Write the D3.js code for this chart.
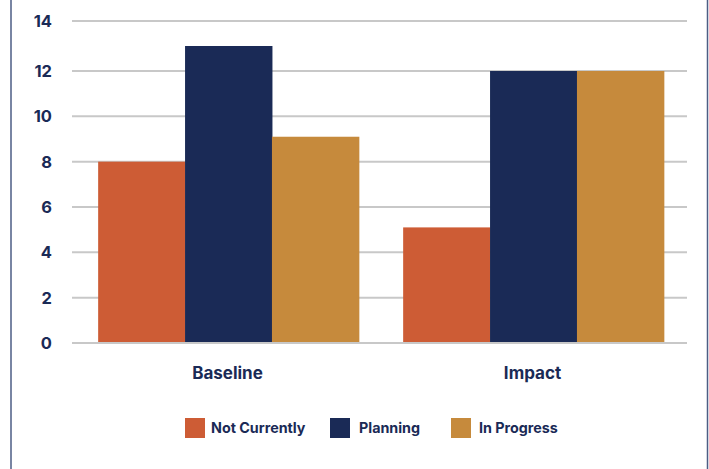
<!DOCTYPE html>
<html><head><meta charset="utf-8">
<script src="https://cdn.jsdelivr.net/npm/d3@7"></script>
<style>body{margin:0;background:#fff}svg{display:block}</style>
</head><body>
<script>
const categories = ["Baseline", "Impact"];
const seriesNames = ["Not Currently", "Planning", "In Progress"];
const notCurrently = [8, 5.1];
const planning = [13, 12];
const inProgress = [9.1, 12];
const yTicks = [0, 2, 4, 6, 8, 10, 12, 14];
const colors = ["#cd5c35", "#1a2a56", "#c68a3c"];

const W = 709, H = 469;
const svg = d3.select("body").append("svg").attr("width", W).attr("height", H);
const font = "Inter, 'Open Sans', sans-serif";
const navy = "#1a2a56";

svg.append("line").attr("x1", 11).attr("x2", 11).attr("y1", 0).attr("y2", H).attr("stroke", "#4d5d84").attr("stroke-width", 1.5);
svg.append("line").attr("x1", 707.5).attr("x2", 707.5).attr("y1", 0).attr("y2", H).attr("stroke", "#4d5d84").attr("stroke-width", 1.5);

const y = d3.scaleLinear().domain([0, 12, 14]).range([343, 71, 21]);
const x0 = d3.scaleBand().domain(categories).range([76, 686]);
const x1 = d3.scaleBand().domain(seriesNames).range([0, x0.bandwidth()]).paddingInner(0).paddingOuter(0.255);

const grid = svg.append("g");
yTicks.forEach(t => {
  grid.append("line").attr("x1", 72).attr("x2", 687).attr("y1", y(t)).attr("y2", y(t))
    .attr("stroke", "#c8c8c8").attr("stroke-width", 2);
  svg.append("text").attr("x", 52).attr("y", y(t)).attr("dy", "0.36em").attr("text-anchor", "end")
    .attr("font-family", font).attr("font-weight", 700).attr("font-size", 16.5).attr("fill", navy).text(t);
});

const data = [notCurrently, planning, inProgress];
categories.forEach((c, ci) => {
  seriesNames.forEach((s, si) => {
    const v = data[si][ci];
    svg.append("rect").attr("x", x0(c) + x1(s)).attr("width", x1.bandwidth() + 0.5)
      .attr("y", y(v)).attr("height", y(0) - y(v) - 1).attr("fill", colors[si]);
  });
  svg.append("text").attr("x", x0(c) + x0.bandwidth() / 2 - 1).attr("y", 379).attr("text-anchor", "middle")
    .attr("font-family", font).attr("font-weight", 700).attr("font-size", 17).attr("fill", navy).text(c);
});

const legX = [185, 330, 451];
const legTextX = [211, 359, 479];
seriesNames.forEach((s, i) => {
  svg.append("rect").attr("x", legX[i]).attr("y", 418).attr("width", 20).attr("height", 20).attr("fill", colors[i]);
  svg.append("text").attr("x", legTextX[i]).attr("y", 428).attr("dy", "0.36em")
    .attr("font-family", font).attr("font-weight", 700).attr("font-size", 14.3).attr("fill", navy).text(s);
});
</script>
</body></html>
